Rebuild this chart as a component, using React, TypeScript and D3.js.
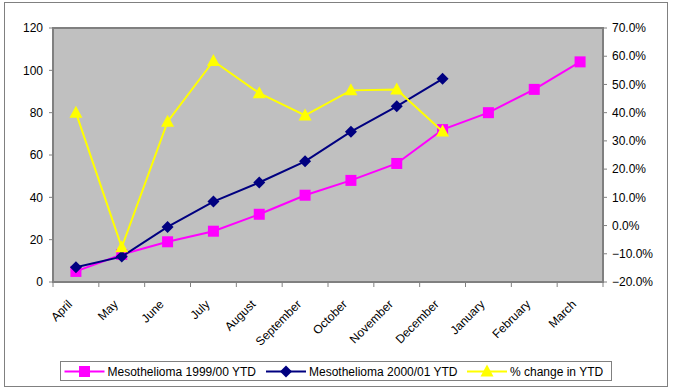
import React from 'react'
import * as d3 from 'd3'

const months = ['April', 'May', 'June', 'July', 'August', 'September', 'October', 'November', 'December', 'January', 'February', 'March']
const meso9900 = [5, 13, 19, 24, 32, 41, 48, 56, 72, 80, 91, 104]
const meso0001 = [7, 12, 26, 38, 47, 57, 71, 83, 96]
const pctChange = [0.4, -0.077, 0.368, 0.583, 0.469, 0.39, 0.479, 0.482, 0.333]
const leftTicks = [0, 20, 40, 60, 80, 100, 120]
const rightTicks = [-0.2, -0.1, 0, 0.1, 0.2, 0.3, 0.4, 0.5, 0.6, 0.7]
const legendItems = ['Mesothelioma 1999/00 YTD', 'Mesothelioma 2000/01 YTD', '% change in YTD']

const W = 675
const H = 391
const plot = { left: 53, right: 603, top: 28, bottom: 282 }
const font = 'Liberation Sans, Arial, sans-serif'
const FS = 12

const PINK = '#ff00ff'
const NAVY = '#000080'
const YELLOW = '#ffff00'

const Square = ({ x, y }: { x: number; y: number }) => (
  <rect x={x - 5.5} y={y - 5.5} width={11} height={11} fill={PINK} />
)
const Diamond = ({ x, y }: { x: number; y: number }) => (
  <path d={`M${x},${y - 6}L${x + 6},${y}L${x},${y + 6}L${x - 6},${y}Z`} fill={NAVY} />
)
const Triangle = ({ x, y }: { x: number; y: number }) => (
  <path d={`M${x},${y - 7}L${x + 6.5},${y + 5}L${x - 6.5},${y + 5}Z`} fill={YELLOW} />
)

export default function App() {
  const x = d3.scaleBand<string>().domain(months).range([plot.left, plot.right]).padding(0)
  const cx = (m: string) => (x(m) as number) + x.bandwidth() / 2
  const yL = d3.scaleLinear().domain([0, 120]).range([plot.bottom, plot.top])
  const yR = d3.scaleLinear().domain([-0.2, 0.7]).range([plot.bottom, plot.top])

  const lineL = d3.line<number>().x((_, i) => cx(months[i])).y(d => yL(d))
  const lineR = d3.line<number>().x((_, i) => cx(months[i])).y(d => yR(d))
  const pctFmt = d3.format('.1%')

  const boundaries = months.map(m => x(m) as number).concat([plot.right])

  // legend entries: line start, text start
  const legY = 371.5
  const legX = [64.5, 266, 467]

  return (
    <svg width={W} height={H} style={{ position: 'absolute', left: 0, top: 0 }} fontFamily={font}>
      <rect x={0} y={0} width={W} height={H} fill="#fff" />
      <rect x={4.5} y={2.5} width={663} height={384} fill="none" stroke="#808080" strokeWidth={1} />

      {/* plot area */}
      <rect x={plot.left} y={plot.top} width={plot.right - plot.left} height={plot.bottom - plot.top}
        fill="#c0c0c0" stroke="#808080" strokeWidth={2} />

      {/* left axis */}
      {leftTicks.map(t => (
        <g key={'l' + t}>
          <line x1={plot.left - 4} x2={plot.left} y1={yL(t)} y2={yL(t)} stroke="#808080" />
          <text x={plot.left - 10} y={yL(t)} dy="0.35em" textAnchor="end" fontSize={FS}>{t}</text>
        </g>
      ))}

      {/* right axis */}
      {rightTicks.map(t => (
        <g key={'r' + t}>
          <line x1={plot.right} x2={plot.right + 4} y1={yR(t)} y2={yR(t)} stroke="#808080" />
          <text x={plot.right + 9} y={yR(t)} dy="0.35em" textAnchor="start" fontSize={FS}>{pctFmt(t)}</text>
        </g>
      ))}

      {/* x axis */}
      {boundaries.map((b, i) => (
        <line key={'b' + i} x1={b} x2={b} y1={plot.bottom} y2={plot.bottom + 5} stroke="#808080" />
      ))}
      {months.map(m => (
        <text key={m} transform={`translate(${cx(m) - 3},${plot.bottom + 23}) rotate(-45)`}
          textAnchor="end" fontSize={FS}>{m}</text>
      ))}

      {/* series */}
      <path d={lineL(meso9900) || ''} fill="none" stroke={PINK} strokeWidth={2} />
      {meso9900.map((v, i) => <Square key={'p' + i} x={cx(months[i])} y={yL(v)} />)}

      <path d={lineL(meso0001) || ''} fill="none" stroke={NAVY} strokeWidth={2} />
      {meso0001.map((v, i) => <Diamond key={'n' + i} x={cx(months[i])} y={yL(v)} />)}

      <path d={lineR(pctChange) || ''} fill="none" stroke={YELLOW} strokeWidth={2} />
      {pctChange.map((v, i) => <Triangle key={'y' + i} x={cx(months[i])} y={yR(v)} />)}

      {/* legend */}
      <rect x={60.5} y={361.5} width={551} height={19} fill="#fff" stroke="#808080" />
      {legendItems.map((label, i) => {
        const lx = legX[i]
        const color = [PINK, NAVY, YELLOW][i]
        const mx = lx + 20
        return (
          <g key={label}>
            <line x1={lx} x2={lx + 40} y1={legY} y2={legY} stroke={color} strokeWidth={2} />
            {i === 0 && <Square x={mx} y={legY} />}
            {i === 1 && <Diamond x={mx} y={legY} />}
            {i === 2 && <Triangle x={mx} y={legY} />}
            <text x={lx + 43} y={legY} dy="0.35em" fontSize={FS}>{label}</text>
          </g>
        )
      })}
    </svg>
  )
}
